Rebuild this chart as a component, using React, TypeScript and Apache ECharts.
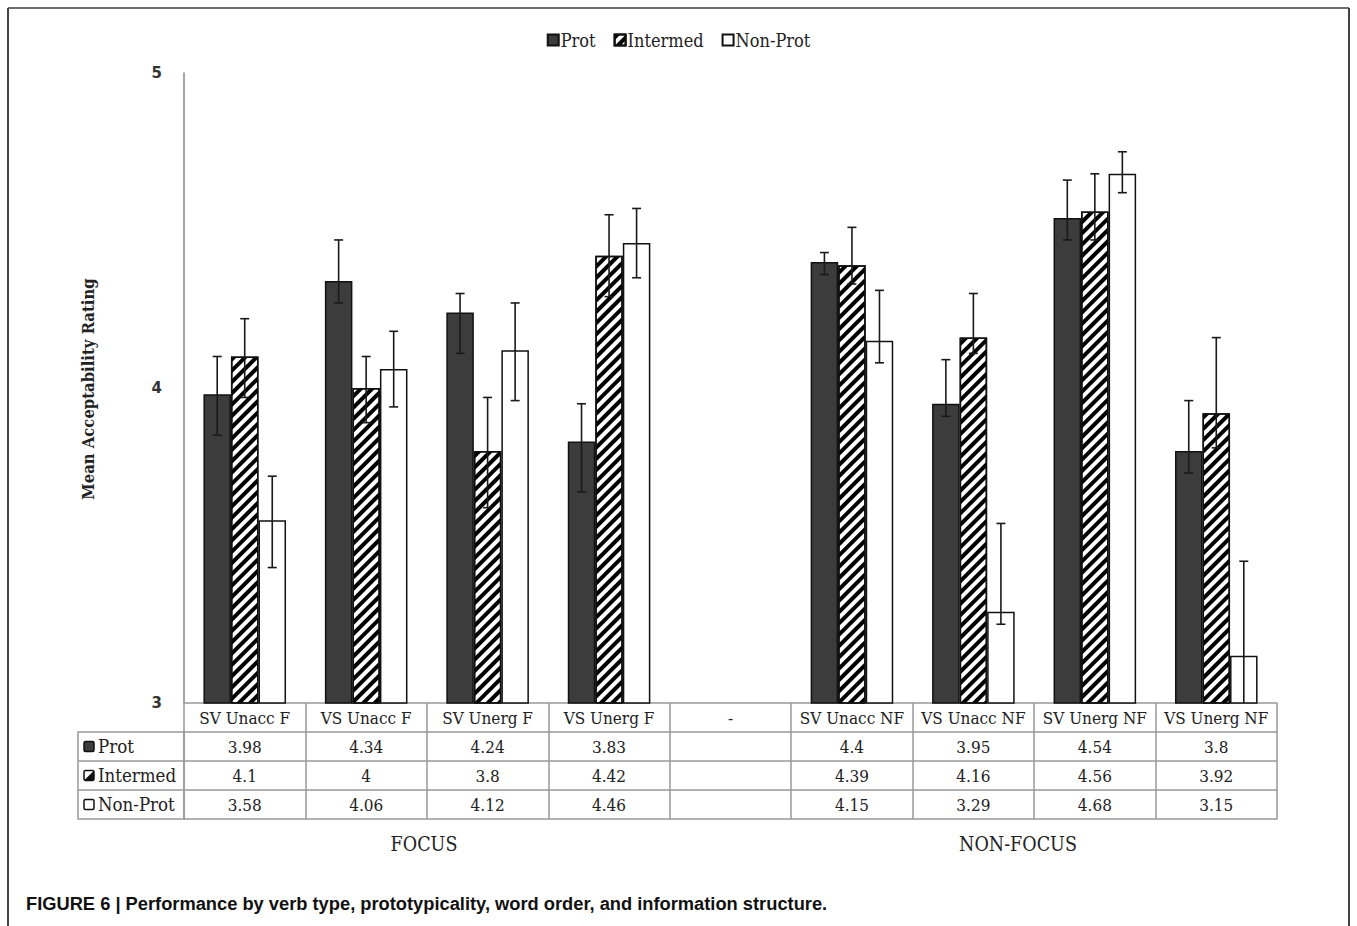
import React, { useEffect, useRef } from "react";
import * as echarts from "echarts";

const categories = ["SV Unacc F", "VS Unacc F", "SV Unerg F", "VS Unerg F", "-", "SV Unacc NF", "VS Unacc NF", "SV Unerg NF", "VS Unerg NF"];
const seriesNames = ["Prot", "Intermed", "Non-Prot"];
const prot = [3.98, 4.34, 4.24, 3.83, null, 4.4, 3.95, 4.54, 3.8];
const intermed = [4.1, 4, 3.8, 4.42, null, 4.39, 4.16, 4.56, 3.92];
const nonProt = [3.58, 4.06, 4.12, 4.46, null, 4.15, 3.29, 4.68, 3.15];
const protUpper = [4.1, 4.47, 4.3, 3.95, null, 4.43, 4.09, 4.66, 3.96];
const protLower = [3.85, 4.27, 4.11, 3.67, null, 4.36, 3.91, 4.47, 3.73];
const intermedUpper = [4.22, 4.1, 3.97, 4.55, null, 4.51, 4.3, 4.68, 4.16];
const intermedLower = [3.97, 3.89, 3.62, 4.29, null, 4.33, 4.11, 4.47, 3.81];
const nonProtUpper = [3.72, 4.18, 4.27, 4.57, null, 4.31, 3.57, 4.75, 3.45];
const nonProtLower = [3.43, 3.94, 3.96, 4.35, null, 4.08, 3.25, 4.62, 2.85];
const yTicks = [3, 4, 5];
const groupLabels = ["FOCUS", "NON-FOCUS"];
const yTitle = "Mean Acceptability Rating";
const caption = "FIGURE 6 | Performance by verb type, prototypicality, word order, and information structure.";

const SERIF = '"DejaVu Serif Condensed", "Liberation Serif", serif';
const GRID_LEFT = 184;
const GRID_RIGHT = 80;
const GRID_TOP = 73;
const GRID_BOTTOM = 223;
const ROW_H = 29;
const CAT_GAP = 0.32;
const BORDER = "#999";
const TABLE_FS = 17;

export default function App() {
  const ref = useRef<HTMLDivElement>(null);
  useEffect(() => {
    if (!ref.current) return;
    const chart = echarts.init(ref.current, undefined, { renderer: "svg" });
    const values = [prot, intermed, nonProt];
    const uppers = [protUpper, intermedUpper, nonProtUpper];
    const lowers = [protLower, intermedLower, nonProtLower];
    const fills = ["#3c3c3c", "#ffffff", "#ffffff"];

    const barSeries = values.map((vals, k) => ({
      type: "bar",
      name: seriesNames[k],
      data: vals,
      barGap: "0%",
      barCategoryGap: `${CAT_GAP * 100}%`,
      itemStyle: {
        color: fills[k],
        borderColor: "#111",
        borderWidth: 1.5,
        decal: k === 1
          ? { symbol: "rect", color: "#000", backgroundColor: "#fff", dashArrayX: [1, 0], dashArrayY: [3.5, 3.5], rotation: -Math.PI / 4, symbolSize: 1 }
          : "none",
      },
      z: 2,
    }));

    const errSeries = values.map((vals, k) => ({
      type: "custom",
      name: seriesNames[k] + " err",
      clip: true,
      z: 5,
      data: vals.map((v, i) => (v == null ? null : [i, lowers[k][i], uppers[k][i]])).filter((d) => d),
      encode: { x: 0, y: [1, 2] },
      renderItem: (params: any, api: any) => {
        const idx = api.value(0);
        const lo = api.coord([idx, api.value(1)]);
        const hi = api.coord([idx, api.value(2)]);
        const catW = api.size([1, 0])[0];
        const barW = (catW * (1 - CAT_GAP)) / 3;
        const x = lo[0] + (k - 1) * barW;
        const cap = 4.5;
        const style = { stroke: "#1a1a1a", lineWidth: 1.6 };
        return {
          type: "group",
          children: [
            { type: "line", shape: { x1: x, y1: lo[1], x2: x, y2: hi[1] }, style },
            { type: "line", shape: { x1: x - cap, y1: lo[1], x2: x + cap, y2: lo[1] }, style },
            { type: "line", shape: { x1: x - cap, y1: hi[1], x2: x + cap, y2: hi[1] }, style },
          ],
        };
      },
    }));

    const tableRows = [prot, intermed, nonProt];
    const labelStyle = { fontFamily: SERIF, fontSize: TABLE_FS, color: "#222" };
    const xAxes: any[] = [
      {
        type: "category",
        data: categories,
        position: "bottom",
        offset: 0,
        axisLine: { lineStyle: { color: BORDER, width: 1.5 } },
        axisTick: { show: true, length: ROW_H, interval: 0, lineStyle: { color: BORDER, width: 1.5 } },
        axisLabel: { ...labelStyle, interval: 0, margin: 6 },
      },
    ];
    tableRows.forEach((row, r) => {
      xAxes.push({
        type: "category",
        data: categories,
        position: "bottom",
        offset: ROW_H * (r + 1),
        axisLine: { lineStyle: { color: BORDER, width: 1.5 } },
        axisTick: { show: true, length: ROW_H, interval: 0, lineStyle: { color: BORDER, width: 1.5 } },
        axisLabel: {
          ...labelStyle,
          interval: 0,
          margin: 6,
          formatter: (_v: string, i: number) => (row[i] == null ? "" : String(row[i])),
        },
      });
    });
    xAxes.push({
      type: "category",
      data: categories,
      position: "bottom",
      offset: ROW_H * 4,
      axisLine: { lineStyle: { color: BORDER, width: 1.5 } },
      axisTick: { show: false },
      axisLabel: { show: false },
    });

    const tableLeft = 78;
    const tableTop = 703 + ROW_H;
    const graphics: any[] = [
      { type: "line", shape: { x1: 8, y1: 8, x2: 1349, y2: 8 }, style: { stroke: "#6e6e6e", lineWidth: 2 } },
      { type: "line", shape: { x1: 8, y1: 8, x2: 8, y2: 926 }, style: { stroke: "#444", lineWidth: 2 } },
      { type: "line", shape: { x1: 1349, y1: 8, x2: 1349, y2: 926 }, style: { stroke: "#444", lineWidth: 2 } },
      { type: "rect", shape: { x: tableLeft, y: tableTop, width: GRID_LEFT - tableLeft, height: ROW_H * 3 }, style: { fill: "none", stroke: BORDER, lineWidth: 1.5 } },
      { type: "line", shape: { x1: tableLeft, y1: tableTop + ROW_H, x2: GRID_LEFT, y2: tableTop + ROW_H }, style: { stroke: BORDER, lineWidth: 1.5 } },
      { type: "line", shape: { x1: tableLeft, y1: tableTop + ROW_H * 2, x2: GRID_LEFT, y2: tableTop + ROW_H * 2 }, style: { stroke: BORDER, lineWidth: 1.5 } },
      {
        type: "text",
        x: 88,
        y: 389,
        rotation: Math.PI / 2,
        style: { text: yTitle, fontFamily: SERIF, fontSize: 16.5, fontWeight: "bold", fill: "#222", align: "center", verticalAlign: "middle" },
      },
      { type: "text", x: 424, y: 844, style: { text: groupLabels[0], fontFamily: SERIF, fontSize: 19.5, fill: "#222", align: "center", verticalAlign: "middle" } },
      { type: "text", x: 1018, y: 844, style: { text: groupLabels[1], fontFamily: SERIF, fontSize: 19.5, fill: "#222", align: "center", verticalAlign: "middle" } },
      { type: "text", x: 26, y: 903, style: { text: caption, fontFamily: '"Liberation Sans", Arial, sans-serif', fontSize: 18.3, fontWeight: "bold", fill: "#111", align: "left", verticalAlign: "middle" } },
    ];
    seriesNames.forEach((name, r) => {
      const cy = tableTop + ROW_H * r + ROW_H / 2;
      const ix = 84;
      graphics.push({ type: "rect", shape: { x: ix, y: cy - 5, width: 10, height: 10, r: 1.5 }, style: { fill: r === 0 ? "#3c3c3c" : "#fff", stroke: "#111", lineWidth: 1.5 } });
      if (r === 1) {
        graphics.push({ type: "polygon", shape: { points: [[ix, cy + 5], [ix + 10, cy - 5], [ix + 10, cy + 5]] }, style: { fill: "#111" } });
      }
      graphics.push({ type: "text", x: ix + 14, y: cy, style: { text: name, fontFamily: SERIF, fontSize: 18.5, fill: "#222", align: "left", verticalAlign: "middle" } });
    });

    chart.setOption({
      animation: false,
      backgroundColor: "#fff",
      legend: {
        top: 26,
        left: "center",
        data: seriesNames,
        icon: "rect",
        itemWidth: 11,
        itemHeight: 11,
        itemGap: 18,
        textStyle: { fontFamily: SERIF, fontSize: 18, color: "#222", padding: [0, 0, 0, -3] },
      },
      grid: { left: GRID_LEFT, right: GRID_RIGHT, top: GRID_TOP, bottom: GRID_BOTTOM, containLabel: false },
      xAxis: xAxes,
      yAxis: {
        type: "value",
        min: 3,
        max: 5,
        interval: 1,
        axisLine: { show: true, lineStyle: { color: "#888", width: 1.5 } },
        axisTick: { show: false },
        splitLine: { show: false },
        axisLabel: {
          fontFamily: '"DejaVu Sans", sans-serif',
          fontWeight: "bold",
          fontSize: 15,
          color: "#333",
          margin: 22,
          formatter: (v: number) => (yTicks.includes(v) ? String(v) : ""),
        },
      },
      series: [...barSeries, ...errSeries],
      graphic: graphics,
    });
    return () => chart.dispose();
  }, []);
  return <div ref={ref} style={{ position: "absolute", left: 0, top: 0, width: 1357, height: 926 }} />;
}
